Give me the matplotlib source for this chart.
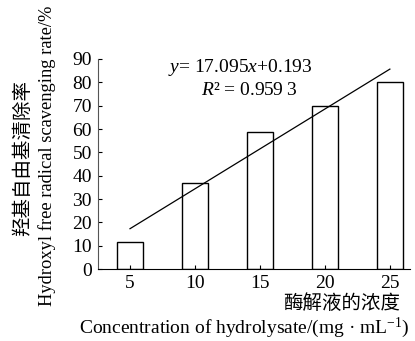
import numpy as np
import matplotlib
matplotlib.use("Agg")
import matplotlib.pyplot as plt

plt.rcParams['font.family'] = ['Liberation Serif', 'Noto Sans CJK SC']
plt.rcParams['mathtext.fontset'] = 'custom'
plt.rcParams['mathtext.rm'] = 'Liberation Serif'
plt.rcParams['mathtext.it'] = 'Liberation Serif:italic'

conc = [5, 10, 15, 20, 25]
rate = [11.4, 36.7, 58.7, 70.0, 80.3]
slope = 17.095
intercept = 0.193
r2_text = "0.959 3"

fig = plt.figure(figsize=(4.15, 3.41), dpi=100)
ax = fig.add_axes([0.235, 0.211, 0.753, 0.616])

pos = np.arange(len(conc))
ax.bar(pos, rate, width=0.4, color='white', edgecolor='black', linewidth=1.0)

# trend line, regression variable runs 1..5
xr = pos + 1
ax.plot(pos, slope * xr + intercept, color='black', linewidth=0.9)

ax.set_xlim(-0.5, 4.31)
ax.set_ylim(0, 90)
ax.set_yticks(range(0, 91, 10))
ax.set_xticks(pos)
ax.set_xticklabels([str(c) for c in conc])
ax.tick_params(direction='in', length=3, width=0.8, labelsize=14, pad=4)
ax.spines['top'].set_visible(False)
ax.spines['right'].set_visible(False)
ax.spines['left'].set_color('#555555')

fs = 14
fig.text(0.578, 0.801, "$y$= 17.095$x$+0.193", ha='center', va='center', fontsize=fs)
fig.text(0.602, 0.736, "$R$\u00b2 = " + r2_text, ha='center', va='center', fontsize=fs)

fig.text(0.055, 0.537, "羟基自由基清除率", rotation=90, ha='center', va='center',
         fontsize=fs, family=['Noto Sans CJK SC'])
fig.text(0.113, 0.542, "Hydroxyl free radical scavenging rate/%", rotation=90,
         ha='center', va='center', fontsize=13.3)
fig.text(0.964, 0.111, "酶解液的浓度", ha='right', va='center', fontsize=fs,
         family=['Noto Sans CJK SC'])
fig.text(0.589, 0.038, "Concentration of hydrolysate/(mg \u00b7 mL$^{-1}$)",
         ha='center', va='center', fontsize=fs)

fig.savefig("out.png", dpi=100)
